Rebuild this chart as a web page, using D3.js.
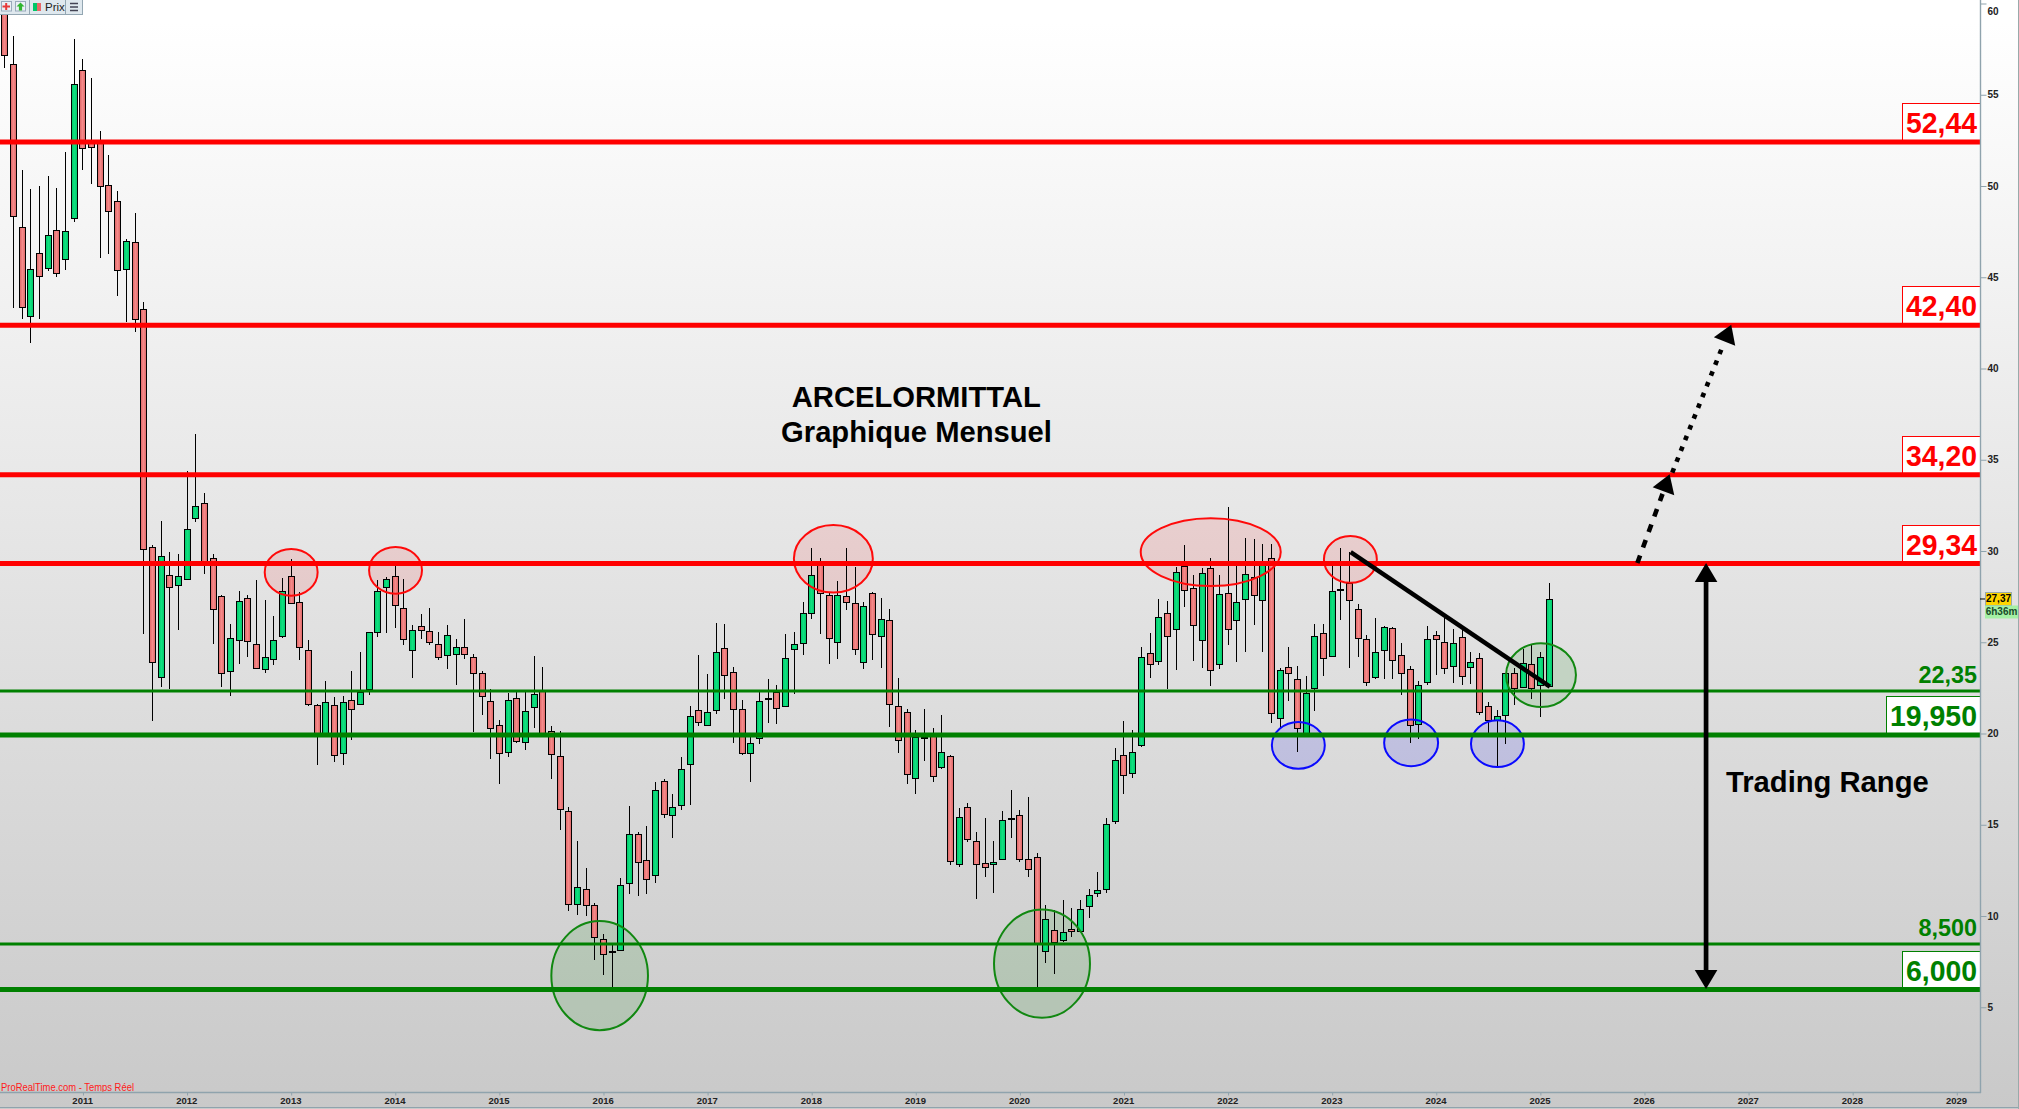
<!DOCTYPE html>
<html><head><meta charset="utf-8">
<script src="https://cdn.jsdelivr.net/npm/d3@7/dist/d3.min.js"></script>
<style>html,body{margin:0;padding:0;background:#fff;overflow:hidden}svg{display:block}text{font-family:"Liberation Sans",Arial,sans-serif}</style>
</head><body><div id="chart"></div>
<script>
// Monthly candles, first one is April 2010, one value per month
const open=[60.5,56.67,47.77,42.86,46.31,45.49,47.57,45.98,48.23,56.34,
52.52,52.46,50.04,49.16,45.43,46.91,43.24,30.20,23.07,28.66,
28.12,28.44,31.79,32.61,29.60,27.51,23.40,25.10,27.40,24.88,
23.51,24.06,25.32,28.61,27.18,24.55,21.54,20.0,21.54,18.91,
21.81,21.59,22.41,25.54,28.01,28.61,26.86,24.55,25.87,25.59,
24.88,24.28,24.33,24.72,24.17,23.29,21.76,20.44,18.96,21.92,
19.51,21.43,22.35,20.11,18.74,15.73,10.63,11.46,10.63,8.72,
8.09,8.12,11.79,14.52,13.05,12.22,17.37,15.57,16.06,18.31,
21.27,20.44,21.27,24.66,23.35,21.32,18.91,19.73,21.94,22.25,
21.48,24.61,24.94,26.58,29.39,27.57,24.99,27.51,27.13,23.89,
27.68,25.32,26.20,21.48,21.16,17.54,19.80,19.91,18.14,18.74,
12.85,16.0,14.09,12.88,12.83,13.10,15.36,15.51,13.10,13.21,
8.06,9.21,8.71,9.27,9.16,10.53,11.24,11.46,15.18,18.80,
17.81,19.35,24.39,23.95,26.58,25.70,29.16,27.95,25.10,29.05,
23.79,27.68,26.20,27.35,28.55,27.29,29.60,20.83,23.62,22.96,
19.95,22.47,25.50,24.23,27.90,28.26,26.80,25.16,23.07,24.55,
25.80,24.28,23.51,20.50,22.80,25.38,25.04,23.68,25.27,23.62,
24.12,21.48,20.72,20.99,23.29,22.53,23.79,22.64,22.58];
const close=[57.16,48.34,43.40,45.43,45.05,47.30,45.21,47.51,55.57,52.06,
52.12,49.98,48.61,45.38,46.97,42.69,30.09,23.89,29.70,28.01,
28.61,31.18,32.44,29.34,26.80,23.29,25.21,27.24,25.05,23.57,
24.17,25.10,27.79,27.13,24.72,21.59,19.97,21.70,18.80,21.70,
21.32,22.25,25.54,27.79,28.44,27.02,25.16,25.65,25.65,24.99,
24.17,25.38,24.72,24.33,23.29,22.03,20.28,18.91,21.81,19.57,
21.21,22.14,19.99,18.85,15.84,10.63,11.57,10.58,8.88,7.90,
8.09,11.68,14.47,12.99,12.0,16.88,15.57,16.0,18.03,20.94,
20.61,21.16,24.44,23.18,21.32,18.91,19.46,21.76,21.94,21.38,
24.12,24.88,26.58,28.66,27.68,25.21,27.57,27.18,24.61,26.96,
25.43,26.25,21.59,19.62,17.76,19.80,19.80,17.69,18.96,13.0,
15.40,14.25,12.83,12.66,12.94,15.24,15.36,13.10,12.55,8.51,
9.82,8.55,9.15,9.16,10.36,11.13,11.40,15.02,18.53,17.70,
18.96,24.17,23.79,26.36,25.32,28.83,27.84,25.92,28.77,23.46,
27.62,25.70,27.18,28.72,27.57,29.23,21.10,23.46,23.29,20.28,
22.20,25.32,24.12,27.79,27.90,27.35,25.21,22.80,24.44,25.81,
24.06,23.29,20.44,22.64,25.16,25.16,23.62,24.94,23.13,23.90,
21.16,20.72,20.94,23.29,22.47,23.84,22.47,24.17,27.37];
const high=[61,58.22,50.87,49.83,50.0,50.55,49.89,51.86,58.05,56.96,
55.92,53.01,51.70,49.72,47.09,48.52,43.64,30.32,31.64,29.94,
29.83,34.38,36.41,33.17,29.83,27.57,26.0,27.80,27.57,28.39,
27.29,26.43,28.52,29.56,27.73,25.10,21.59,22.87,22.0,22.05,
23.42,24.46,25.56,28.39,28.55,29.17,28.44,25.92,26.53,26.86,
25.54,25.94,25.17,26.27,24.33,23.45,22.43,20.72,22.20,22.25,
22.28,24.23,23.63,20.39,20.11,16.0,14.10,12.62,10.69,9.0,
8.40,12.07,16.02,14.58,14.93,17.32,17.48,16.71,18.71,21.50,
24.32,23.25,26.05,26.0,23.64,21.83,19.80,22.32,22.98,22.64,
25.43,25.56,27.20,30.16,29.61,27.77,28.35,30.16,29.12,27.18,
27.75,27.42,26.82,23.04,21.32,20.19,21.32,20.28,21.01,18.80,
15.90,16.17,14.63,15.36,14.10,15.75,16.90,15.80,16.51,13.43,
10.58,10.31,10.85,10.43,10.85,11.47,12.39,15.36,19.18,20.68,
20.19,24.73,25.50,27.37,27.26,29.13,30.32,28.68,29.05,29.60,
28.68,32.41,29.17,30.71,30.65,30.38,30.38,23.57,24.73,23.68,
23.15,25.98,25.98,29.17,30.16,29.94,27.07,25.38,26.32,25.88,
25.83,24.94,23.68,22.86,25.88,25.61,26.32,25.72,25.66,24.44,
24.39,21.72,21.28,23.33,23.57,24.62,24.90,24.44,28.23];
const low=[56.48,43.33,42.73,41.41,42.73,45.36,45.03,45.39,48.03,50.87,
50.11,46.07,46.27,43.99,42.54,42.0,25.46,20.70,22.56,22.43,
25.68,28.40,31.60,28.75,24.91,22.56,22.07,23.82,24.21,23.55,
23.33,23.75,25.25,27.10,24.02,21.52,18.29,19.98,18.45,18.29,
19.64,21.57,22.10,25.28,25.48,25.77,24.87,23.05,25.17,24.87,
24.02,23.55,22.67,24.09,20.06,21.02,18.61,17.25,18.72,19.49,
19.11,20.31,19.95,17.52,14.72,10.28,10.06,10.01,7.60,6.78,
6.09,8.10,11.22,11.11,11.22,11.82,15.38,14.28,15.82,16.09,
20.42,20.42,21.08,21.88,19.49,18.83,17.35,19.43,20.57,20.53,
21.43,22.18,24.30,26.27,25.45,23.82,24.09,26.76,24.30,23.54,
24.02,23.60,20.35,18.94,17.25,16.70,18.50,17.34,18.06,12.82,
12.66,14.06,10.94,12.15,11.27,13.08,14.28,12.97,12.15,6.11,
7.44,6.82,8.56,8.85,9.14,9.90,11.05,11.27,15.05,16.68,
17.55,19.24,23.04,23.75,22.43,23.49,26.94,23.97,23.60,22.61,
23.53,24.84,23.91,24.46,25.94,24.46,20.57,20.30,21.78,18.98,
19.9,21.24,23.15,24.2,26.21,23.60,24.19,22.63,22.99,22.97,
22.97,22.10,19.46,19.69,22.67,23.20,23.25,22.78,22.65,22.71,
21.0,19.97,18.20,19.42,21.56,22.5,21.88,20.91,22.55];

const yearTicks=[2011,2012,2013,2014,2015,2016,2017,2018,2019,2020,2021,2022,2023,2024,2025,2026,2027,2028,2029];
const priceTicks=[5,10,15,20,25,30,35,40,45,50,55,60];

// Support and resistance levels
const redLevels=[52.44,42.40,34.20,29.34];
const redLabels=["52,44","42,40","34,20","29,34"];
const greenLevels=[19.95,6.0];
const greenLabels=["19,950","6,000"];
const thinLevels=[22.35,8.5];
const thinLabels=["22,35","8,500"];

// Circled zones: month index, price, half-span in months, half-span in price
const redZones=[[33.0,28.83,3.05,1.28],[45.03,28.94,3.05,1.28],[95.5,29.57,4.55,1.85],[139.0,29.94,8.07,1.86],[155.1,29.54,3.05,1.28]];
const greenZones=[[68.56,6.73,5.57,2.99],[119.55,7.39,5.53,2.97],[177.07,23.2,4.03,1.75]];
const blueZones=[[149.1,19.35,3.05,1.28],[162.1,19.49,3.11,1.28],[172.05,19.44,3.05,1.28]];

// Annotation lines: [month index, price] ends
const trendLine=[[155.13,29.94],[178.1,22.57]];
const dashedMove=[[188.18,29.34],[191.9,34.2]];
const dottedMove=[[192.2,34.3],[199.0,42.4]];
const rangeSpan=[[196.1,29.34],[196.1,6.0]];

const W=2019,H=1109,axisX=1980,axisY=1092;
const x=d3.scaleLinear().domain([0,178]).range([4.9,1549.05]);
const y=d3.scaleLinear().domain([60,5]).range([3.5,1007.25]);
const snap=v=>Math.floor(v)+0.5;
const monthOfYear=yr=>(yr-2010)*12-3;

const svg=d3.select("#chart").append("svg").attr("width",W).attr("height",H).attr("viewBox",`0 0 ${W} ${H}`);
const defs=svg.append("defs");
const grad=(id,stops,horizontal)=>{
  const g=defs.append("linearGradient").attr("id",id).attr("x1",0).attr("y1",0).attr("x2",horizontal?1:0).attr("y2",horizontal?0:1);
  stops.forEach(s=>g.append("stop").attr("offset",s[0]).attr("stop-color",s[1]));
};
grad("bg",[[0,"#ffffff"],[0.02,"#ffffff"],[1,"#c9c9c9"]],false);
grad("upFill",[[0,"#00c768"],[0.5,"#10e080"],[1,"#00c768"]],true);
grad("dnFill",[[0,"#dc6464"],[0.5,"#f58a8a"],[1,"#dc6464"]],true);

svg.append("rect").attr("width",W-1).attr("height",H).attr("fill","url(#bg)");

const zones=[{d:redZones,c:"#ff0000",s:"#ff0a0a",a:0.1},{d:greenZones,c:"#008000",s:"#118811",a:0.12},{d:blueZones,c:"#0000ff",s:"#0a0aff",a:0.12}];
const kx=x(1)-x(0), ky=y(0)-y(1);
const zoneAttrs=sel=>sel.attr("cx",d=>x(d[0])).attr("cy",d=>y(d[1])).attr("rx",d=>d[2]*kx).attr("ry",d=>d[3]*ky);
zones.forEach(z=>{
  svg.append("g").selectAll("ellipse").data(z.d).join("ellipse").call(zoneAttrs).attr("fill",z.c).attr("fill-opacity",z.a);
});

// Candles
const idx=d3.range(open.length);
const cg=svg.append("g").attr("class","candles");
cg.selectAll("line").data(idx).join("line")
  .attr("x1",i=>snap(x(i))).attr("x2",i=>snap(x(i)))
  .attr("y1",i=>y(high[i])).attr("y2",i=>y(low[i]))
  .attr("stroke","#000").attr("stroke-width",1).attr("shape-rendering","crispEdges");
cg.selectAll("rect").data(idx).join("rect")
  .attr("x",i=>Math.floor(x(i))-2.5).attr("width",6)
  .attr("y",i=>Math.round(y(Math.max(open[i],close[i])))+0.5)
  .attr("height",i=>Math.max(1,Math.round(Math.abs(open[i]-close[i])*ky)))
  .attr("fill",i=>close[i]>open[i]?"url(#upFill)":close[i]<open[i]?"url(#dnFill)":"#000")
  .attr("stroke","#000").attr("stroke-width",1).attr("shape-rendering","crispEdges");

zones.forEach(z=>{
  svg.append("g").selectAll("ellipse").data(z.d).join("ellipse").call(zoneAttrs).attr("fill","none").attr("stroke",z.s).attr("stroke-width",2);
});

// Level boxes then lines
const addBoxes=(vals,labels,color)=>{
  vals.forEach((v,k)=>{
    const long=labels[k].length>5;
    const left=long?1886.5:1902.5;
    svg.append("rect").attr("x",left).attr("y",y(v)-38).attr("width",axisX-left).attr("height",38).attr("fill","#fff").attr("stroke",color).attr("stroke-width",1).attr("shape-rendering","crispEdges");
    svg.append("text").attr("x",1977).attr("y",y(v)-8.5).attr("text-anchor","end").attr("fill",color).attr("font-size",29.5).attr("font-weight","bold")
      .attr("textLength",long?87:71).attr("lengthAdjust","spacingAndGlyphs").text(labels[k]);
  });
};
addBoxes(redLevels,redLabels,"#ff0000");
addBoxes(greenLevels,greenLabels,"#008000");
thinLevels.forEach((v,k)=>{
  svg.append("text").attr("x",1977).attr("y",y(v)-7.5).attr("text-anchor","end").attr("fill","#008000").attr("font-size",24.5).attr("font-weight","bold")
    .attr("textLength",58.5).attr("lengthAdjust","spacingAndGlyphs").text(thinLabels[k]);
});
const levelLine=(vals,color,w)=>svg.append("g").selectAll("line").data(vals).join("line")
  .attr("x1",0).attr("x2",axisX).attr("y1",d=>y(d)+0.5).attr("y2",d=>y(d)+0.5).attr("stroke",color).attr("stroke-width",w);
levelLine(redLevels,"#ff0000",5);
levelLine(greenLevels,"#008000",5);
levelLine(thinLevels,"#008000",3);

// Trend line and arrows
const P=p=>[x(p[0]),y(p[1])];
const seg=(pts,w,dash)=>{
  const [a,b]=pts.map(P);
  const l=svg.append("line").attr("x1",a[0]).attr("y1",a[1]).attr("x2",b[0]).attr("y2",b[1]).attr("stroke","#000").attr("stroke-width",w);
  if(dash) l.attr("stroke-dasharray",dash);
};
const head=(tip,from,len,half)=>{
  const dx=tip[0]-from[0],dy=tip[1]-from[1],n=Math.hypot(dx,dy),ux=dx/n,uy=dy/n;
  const bx=tip[0]-ux*len,by=tip[1]-uy*len;
  svg.append("polygon").attr("points",[[tip[0],tip[1]],[bx-uy*half,by+ux*half],[bx+uy*half,by-ux*half]].map(p=>p.join(",")).join(" ")).attr("fill","#000");
};
seg(trendLine,4.5);
seg([dashedMove[0],[dashedMove[0][0]+(dashedMove[1][0]-dashedMove[0][0])*0.78,dashedMove[0][1]+(dashedMove[1][1]-dashedMove[0][1])*0.78]],4.6,"8 8.5");
head(P(dashedMove[1]),P(dashedMove[0]),18,11.5);
seg([dottedMove[0],[dottedMove[0][0]+(dottedMove[1][0]-dottedMove[0][0])*0.87,dottedMove[0][1]+(dottedMove[1][1]-dottedMove[0][1])*0.87]],4.6,"4.6 7");
head(P(dottedMove[1]),P(dottedMove[0]),18,11.5);
const [ra,rb]=rangeSpan.map(P);
svg.append("line").attr("x1",ra[0]).attr("y1",ra[1]+16).attr("x2",rb[0]).attr("y2",rb[1]-16).attr("stroke","#000").attr("stroke-width",4.7);
head(ra,rb,19,11.3);
head(rb,ra,19,11.3);

// Titles
const big=(t,px,py,anchor)=>svg.append("text").attr("x",px).attr("y",py).attr("text-anchor",anchor).attr("font-size",29.2).attr("font-weight","bold").attr("fill","#000").text(t);
big("ARCELORMITTAL",916.3,407.3,"middle");
big("Graphique Mensuel",916.5,441.7,"middle");
big("Trading Range",1726,791.7,"start");
svg.append("text").attr("x",1).attr("y",1091).attr("font-size",10.5).attr("fill","#ff1a1a").attr("textLength",133).attr("lengthAdjust","spacingAndGlyphs").text("ProRealTime.com - Temps Réel");

// Axes
const axisColor="#8fa3ad";
const ax=svg.append("g").attr("transform",`translate(${axisX+0.5},0)`).call(d3.axisRight(y).tickValues(priceTicks).tickSize(6).tickPadding(1).tickFormat(d3.format("d")));
ax.select(".domain").remove();
ax.selectAll(".tick line").attr("stroke",axisColor);
ax.selectAll("text").attr("font-size",10).attr("font-weight","bold").attr("fill","#222").attr("font-family",'"Liberation Sans",Arial,sans-serif');
ax.selectAll(".tick").filter(d=>d===60).select("text").attr("dy","1.05em");
const bx=svg.append("g").attr("transform",`translate(0,${axisY+0.5})`).call(d3.axisBottom(x).tickValues(yearTicks.map(monthOfYear)).tickSize(3).tickPadding(2).tickFormat(d=>String(2010+(d+3)/12)));
bx.select(".domain").remove();
bx.selectAll(".tick line").attr("stroke",axisColor);
bx.selectAll("text").attr("font-size",9.5).attr("font-weight","bold").attr("fill","#222").attr("dx",-0.8).attr("font-family",'"Liberation Sans",Arial,sans-serif');
svg.append("line").attr("x1",axisX+0.5).attr("x2",axisX+0.5).attr("y1",0).attr("y2",axisY+1).attr("stroke",axisColor).attr("stroke-width",1.4);
svg.append("line").attr("x1",0).attr("x2",axisX+1).attr("y1",axisY+0.5).attr("y2",axisY+0.5).attr("stroke",axisColor).attr("stroke-width",1.4);
svg.append("line").attr("x1",0).attr("x2",W).attr("y1",H-1.5).attr("y2",H-1.5).attr("stroke",axisColor).attr("stroke-width",1);
svg.append("line").attr("x1",W-0.5).attr("x2",W-0.5).attr("y1",0).attr("y2",H).attr("stroke","#9aa").attr("stroke-width",1);

// Current price tags
const lastClose=close[close.length-1];
const yc=y(lastClose);
svg.append("line").attr("x1",axisX).attr("x2",axisX+5).attr("y1",yc).attr("y2",yc).attr("stroke","#000");
svg.append("rect").attr("x",1985.5).attr("y",yc-6.5).attr("width",26).attr("height",13).attr("fill","#ffd400").attr("stroke","#9aa").attr("shape-rendering","crispEdges");
svg.append("text").attr("x",1998.5).attr("y",yc+3.5).attr("text-anchor","middle").attr("font-size",10).attr("font-weight","bold").attr("fill","#000").text(String(lastClose).replace(".",","));
svg.append("rect").attr("x",1985).attr("y",yc+6.5).attr("width",33).attr("height",13).attr("fill","#a4f0a4");
svg.append("text").attr("x",2001.5).attr("y",yc+16.5).attr("text-anchor","middle").attr("font-size",10).attr("font-weight","bold").attr("fill","#1a4a2a").text("6h36m");

// Toolbar
const tb=svg.append("g");
tb.append("rect").attr("x",-1).attr("y",-1).attr("width",83.5).attr("height",15.5).attr("fill","#dfe8ee").attr("stroke","#93a6b2").attr("shape-rendering","crispEdges");
[29.5,65.5].forEach(v=>tb.append("line").attr("x1",v).attr("x2",v).attr("y1",0).attr("y2",14).attr("stroke","#93a6b2").attr("shape-rendering","crispEdges"));
[[1.5,"#eaf0f5"],[15.5,"#eaf0f5"]].forEach(b=>tb.append("rect").attr("x",b[0]).attr("y",1.5).attr("width",10).attr("height",9.5).attr("fill",b[1]).attr("stroke","#9ab"));
tb.append("path").attr("d","M2.5 6.5h7.5M6.2 3v7").attr("stroke","#e63a3a").attr("stroke-width",2);
tb.append("path").attr("d","M20.5 2.5l4 4h-2.4v4h-3.2v-4h-2.4z").attr("fill","#2fb52f");
tb.append("rect").attr("x",33).attr("y",3).attr("width",4).attr("height",8).attr("fill","#00c768");
tb.append("rect").attr("x",37).attr("y",3).attr("width",4).attr("height",8).attr("fill","#e86868");
tb.append("text").attr("x",45).attr("y",11).attr("font-size",11.5).attr("fill","#222").text("Prix");
tb.append("path").attr("d","M70 3.5h8M70 7h8M70 10.5h8").attr("stroke","#445").attr("stroke-width",1.6);
</script></body></html>
